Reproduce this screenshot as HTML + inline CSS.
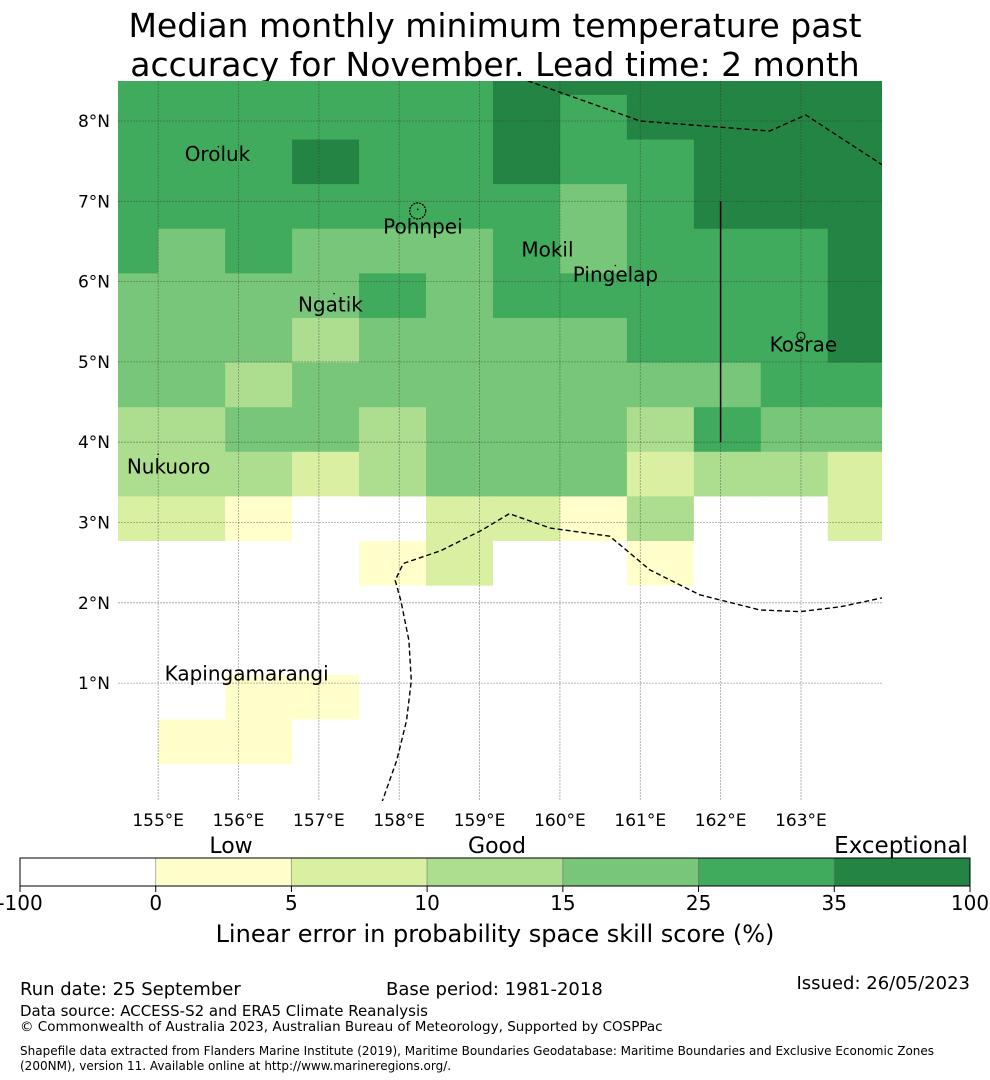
<!DOCTYPE html>
<html><head><meta charset="utf-8"><style>
html,body{margin:0;padding:0;background:#fff;}
svg{display:block;font-family:"DejaVu Sans","Liberation Sans",sans-serif;}
</style></head><body>
<svg id="chart" width="990" height="1080" viewBox="0 0 990 1080" xmlns="http://www.w3.org/2000/svg">
<text x="495" y="37" font-size="33" text-anchor="middle">Median monthly minimum temperature past</text>
<text x="495" y="76" font-size="33" text-anchor="middle">accuracy for November. Lead time: 2 month</text>
<defs><clipPath id="mapclip"><rect x="118" y="81" width="764" height="720"/></clipPath></defs>
<g id="cells" clip-path="url(#mapclip)"></g>
<g id="grid" clip-path="url(#mapclip)"></g>
<g id="overlay" clip-path="url(#mapclip)"></g>
<g id="ticks"></g>
<g id="labels"></g>
<g id="colorbar"></g>
<text x="231" y="853" font-size="22" text-anchor="middle">Low</text>
<text x="497" y="853" font-size="22" text-anchor="middle">Good</text>
<text x="901" y="853" font-size="23" text-anchor="middle">Exceptional</text>
<text x="495" y="942" font-size="24" text-anchor="middle">Linear error in probability space skill score (%)</text>
<text x="20" y="995" font-size="18">Run date: 25 September</text>
<text x="386" y="995" font-size="18">Base period: 1981-2018</text>
<text x="970" y="989" font-size="18" text-anchor="end">Issued: 26/05/2023</text>
<text x="20" y="1016" font-size="15">Data source: ACCESS-S2 and ERA5 Climate Reanalysis</text>
<text x="20" y="1031" font-size="13.5">© Commonwealth of Australia 2023, Australian Bureau of Meteorology, Supported by COSPPac</text>
<text x="20" y="1055" font-size="12">Shapefile data extracted from Flanders Marine Institute (2019), Maritime Boundaries Geodatabase: Maritime Boundaries and Exclusive Economic Zones</text>
<text x="20" y="1070" font-size="12">(200NM), version 11. Available online at http://www.marineregions.org/.</text>
</svg>
<script>
// ---- data ----
const levelColors = ["#ffffff","#ffffcc","#d9f0a3","#addd8e","#78c679","#41ab5d","#238443"];
const boundsLabels = ["-100","0","5","10","15","25","35","100"];
const lonTicks = [155,156,157,158,159,160,161,162,163];
const latTicks = [1,2,3,4,5,6,7,8];
const cellLonStart = 154.1667;   // west edge of first column
const cellLonStep = 5/6;
const cellLatTop = 8.8806;       // north edge of first row
const cellLatStep = 5/9;
// skill level per cell (row = north→south, col = west→east)
const skillGrid = [
 [5,5,5,5,5,5,6,6,6,6,6,6],
 [5,5,5,5,5,5,6,5,6,6,6,6],
 [5,5,5,6,5,5,6,5,5,6,6,6],
 [5,5,5,5,5,5,5,4,5,6,6,6],
 [5,4,5,4,4,4,5,4,5,5,5,6],
 [4,4,4,4,5,4,5,5,5,5,5,6],
 [4,4,4,3,4,4,4,4,5,5,5,6],
 [4,4,3,4,4,4,4,4,4,4,5,5],
 [3,3,4,4,3,4,4,4,3,5,4,4],
 [3,3,3,2,3,4,4,4,2,3,3,2],
 [2,2,1,0,0,2,2,1,3,0,0,2],
 [0,0,0,0,1,2,0,0,1,0,0,0],
 [0,0,0,0,0,0,0,0,0,0,0,0],
 [0,0,0,0,0,0,0,0,0,0,0,0],
 [0,0,1,1,0,0,0,0,0,0,0,0],
 [0,1,1,0,0,0,0,0,0,0,0,0],
 [0,0,0,0,0,0,0,0,0,0,0,0]
];
const islandNames = ["Oroluk","Pohnpei","Mokil","Pingelap","Ngatik","Kosrae","Nukuoro","Kapingamarangi"];
const islandLon = [155.33,157.8,159.52,160.16,156.74,162.61,154.61,155.08];
const islandLat = [7.5,6.6,6.31,6.0,5.63,5.13,3.61,1.03];
const islandDotLon = [155.75,158.23,159.98,160.69,157.19,163.0,155.0,155.9];
const islandDotLat = [7.68,6.9,6.4,6.2,5.85,5.3,3.85,1.07];
const eezNorthLon = [159.6,161.0,162.61,163.06,164.05];
const eezNorthLat = [8.5,8.0,7.875,8.075,7.43];
const eezSouthLon = [157.78,157.97,158.09,158.15,158.12,158.02,157.95,158.05,158.52,159.02,159.37,159.88,160.62,161.12,161.74,162.49,162.99,163.49,164.05];
const eezSouthLat = [-0.5,0.04,0.53,1.03,1.53,2.03,2.28,2.49,2.65,2.9,3.11,2.93,2.83,2.41,2.1,1.91,1.89,1.95,2.07];
const boundaryLon = [162,162];
const boundaryLat = [7.0,4.0];

// ---- scales ----
const NS="http://www.w3.org/2000/svg";
const X = lon => 118 + (lon-154.5)*80.35;
const Y = lat => 121 + (8-lat)*80.3;
function mk(tag, attrs, parent){const e=document.createElementNS(NS,tag);for(const k in attrs)e.setAttribute(k,attrs[k]);parent.appendChild(e);return e;}

const cells=document.getElementById('cells');
skillGrid.forEach((row,r)=>row.forEach((lv,c)=>{
  const lon0=cellLonStart+c*cellLonStep, lat0=cellLatTop-r*cellLatStep;
  const x0=X(lon0), x1=X(lon0+cellLonStep), y0=Y(lat0), y1=Y(lat0-cellLatStep);
  const rc=mk('rect',{x:x0.toFixed(2),y:y0.toFixed(2),width:(x1-x0+0.6).toFixed(2),height:(y1-y0+0.6).toFixed(2),fill:levelColors[lv]},cells);
  
  
}));

const grid=document.getElementById('grid');
lonTicks.forEach(l=>{const ln=mk('line',{x1:X(l),x2:X(l),y1:81,y2:801,stroke:'#333','stroke-opacity':0.45,'stroke-width':0.8,'stroke-dasharray':'2,1'},grid);
  
  });
latTicks.forEach(l=>{const ln=mk('line',{x1:118,x2:882,y1:Y(l),y2:Y(l),stroke:'#333','stroke-opacity':0.45,'stroke-width':0.8,'stroke-dasharray':'2,1'},grid);
  
  });

const ov=document.getElementById('overlay');
function poly(lons,lats,attrs,name){const pts=lons.map((l,i)=>X(l).toFixed(1)+','+Y(lats[i]).toFixed(1)).join(' ');const p=mk('polyline',Object.assign({points:pts,fill:'none'},attrs),ov);
  
  }
poly(eezNorthLon,eezNorthLat,{stroke:'#000','stroke-width':1.4,'stroke-dasharray':'5,3'},'eez-boundary-north');
poly(eezSouthLon,eezSouthLat,{stroke:'#000','stroke-width':1.4,'stroke-dasharray':'5,3'},'eez-boundary-south');
poly(boundaryLon,boundaryLat,{stroke:'#000','stroke-width':1.5},'region-divider-line');
const pn=mk('circle',{cx:X(158.23),cy:Y(6.88),r:8,fill:'none',stroke:'#000','stroke-width':1.3,'stroke-dasharray':'2,1'},ov);


const ks=mk('circle',{cx:X(163.0),cy:Y(5.32),r:4,fill:'none',stroke:'#000','stroke-width':1},ov);


islandDotLon.forEach((l,i)=>{const d=mk('circle',{cx:X(l),cy:Y(islandDotLat[i]),r:0.8,fill:'#000'},ov);
  
  });

const ticks=document.getElementById('ticks');
lonTicks.forEach(l=>{const t=mk('text',{x:X(l),y:826,'font-size':17,'text-anchor':'middle'},ticks);t.textContent=l+'°E';
  
  });
latTicks.forEach(l=>{const t=mk('text',{x:110,y:Y(l)+6,'font-size':17,'text-anchor':'end'},ticks);t.textContent=l+'°N';
  
  });

const labs=document.getElementById('labels');
islandNames.forEach((n,i)=>{const t=mk('text',{x:X(islandLon[i]),y:Y(islandLat[i]),'font-size':20},labs);t.textContent=n;
  
  });

const cb=document.getElementById('colorbar');
const segW=950/levelColors.length;
levelColors.forEach((c,i)=>{const r=mk('rect',{x:20+i*segW,y:858,width:segW,height:28,fill:c,stroke:'#555','stroke-opacity':0.35,'stroke-width':1},cb);
  
  });
mk('rect',{x:20,y:858,width:950,height:28,fill:'none',stroke:'#000','stroke-width':1},cb);
boundsLabels.forEach((b,i)=>{const x=20+i*segW;
  mk('line',{x1:x,x2:x,y1:886,y2:892,stroke:'#000'},cb);
  const t=mk('text',{x:x,y:910,'font-size':20,'text-anchor':'middle'},cb);t.textContent=b;
  
  });
</script>
</body></html>
